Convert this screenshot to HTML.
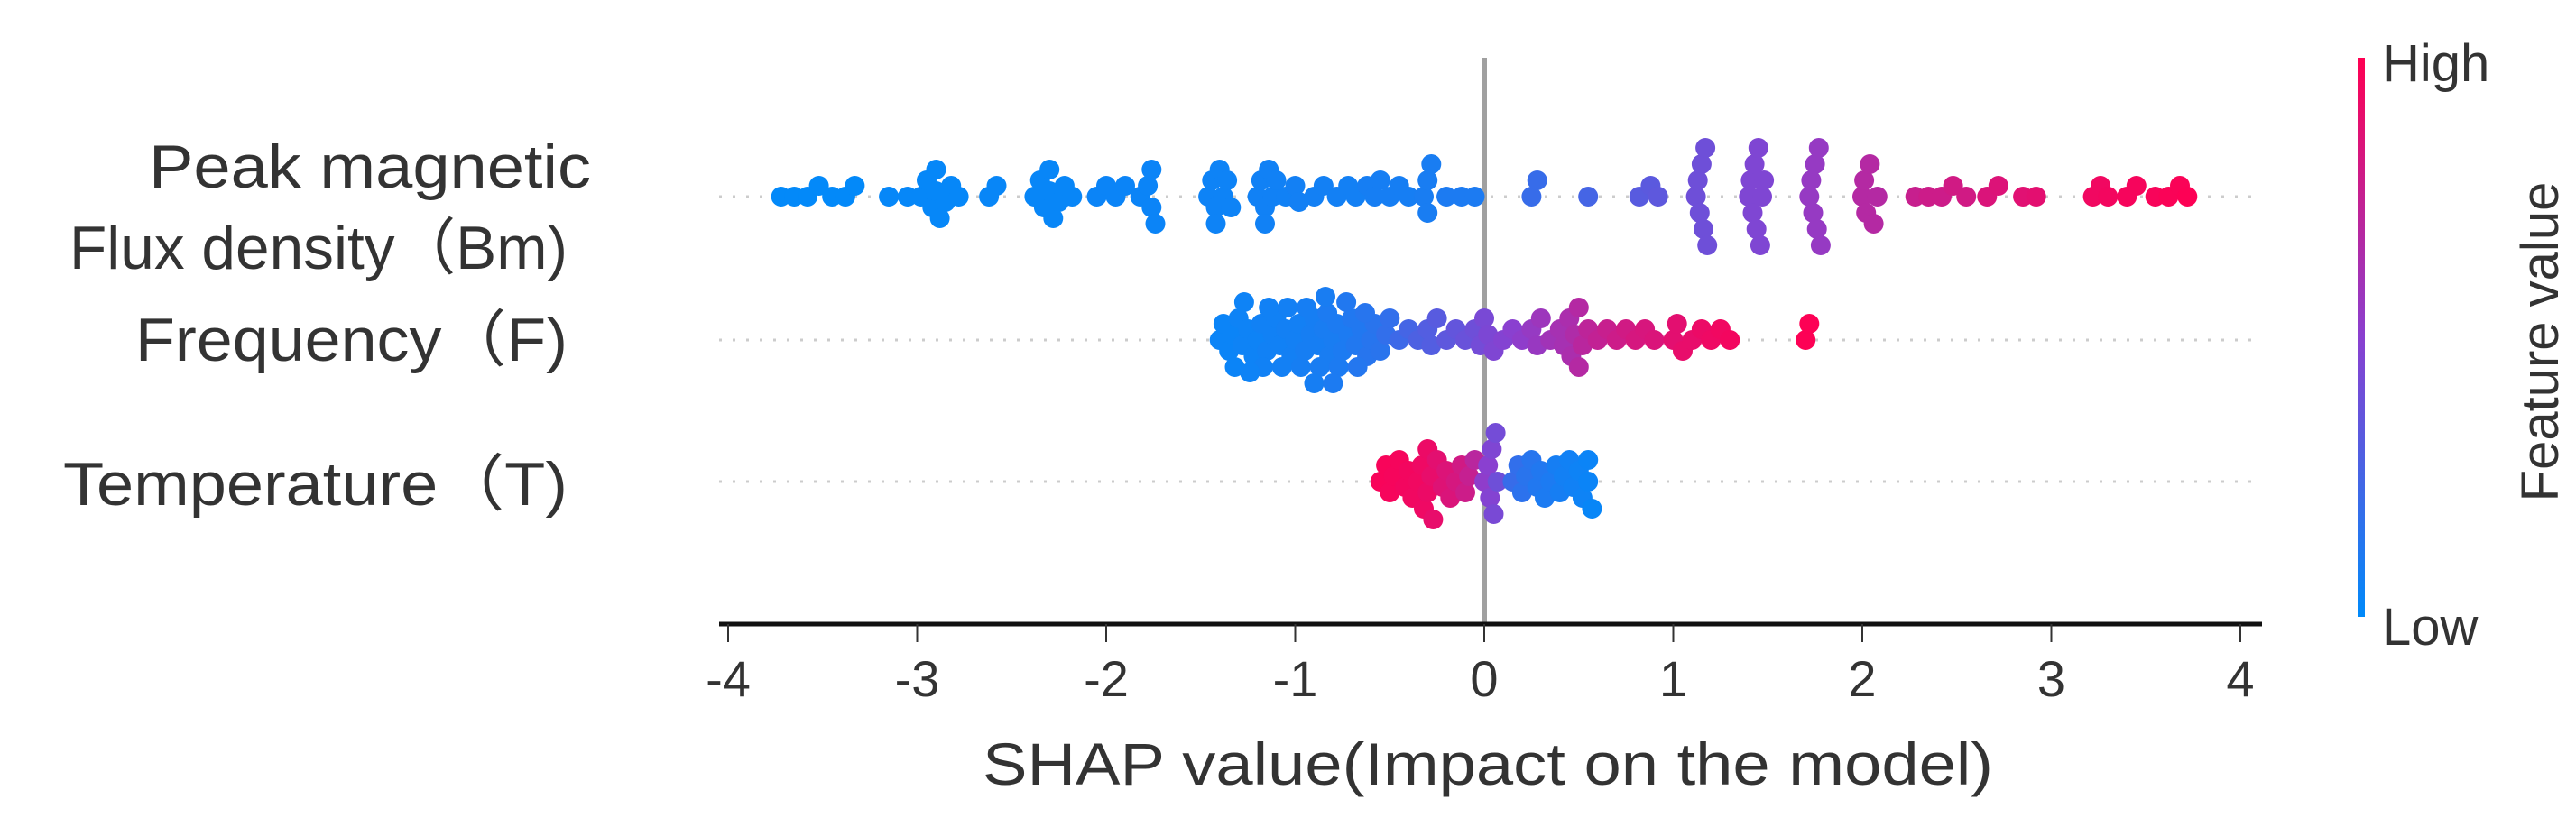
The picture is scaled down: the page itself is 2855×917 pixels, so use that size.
<!DOCTYPE html>
<html><head><meta charset="utf-8"><style>
html,body{margin:0;padding:0;background:#fff;}
svg{display:block;}
text{font-family:"Liberation Sans","Noto Sans CJK SC",sans-serif;fill:#333;}
</style></head><body>
<svg id="chart" width="2855" height="917" viewBox="0 0 2855 917" xmlns="http://www.w3.org/2000/svg">
<defs><linearGradient id="cbar" x1="0" y1="1" x2="0" y2="0">
<stop offset="0" stop-color="#008afa"/><stop offset="0.5" stop-color="#8a40d0"/><stop offset="1" stop-color="#ff0052"/></linearGradient></defs>
<g id="grid"></g>
<line x1="1645" y1="64" x2="1645" y2="692" stroke="#a0a0a0" stroke-width="6"/>
<g id="dots"></g>
<g id="xaxis"></g>
<text x="1089" y="870" font-size="66" textLength="1120" lengthAdjust="spacingAndGlyphs" fill="#222">SHAP value(Impact on the model)</text>
<g font-size="68">
<text x="165" y="208" textLength="490" lengthAdjust="spacingAndGlyphs">Peak magnetic</text>
<text x="77" y="298" textLength="552" lengthAdjust="spacingAndGlyphs">Flux density（Bm)</text>
<text x="150" y="400" textLength="479" lengthAdjust="spacingAndGlyphs">Frequency（F)</text>
<text x="70" y="560" textLength="559" lengthAdjust="spacingAndGlyphs">Temperature（T)</text>
</g>
<rect x="2613" y="64" width="8" height="620" fill="url(#cbar)"/>
<text x="2640" y="90" font-size="58" fill="#222">High</text>
<text x="2640" y="715" font-size="58" fill="#222">Low</text>
<text transform="translate(2835,379) rotate(-90)" font-size="58" text-anchor="middle" fill="#222">Feature value</text>
</svg>
<script>
const features = ["Bm","F","T"];
const tickValues = [-4,-3,-2,-1,0,1,2,3,4];
const tickLabels = ["-4","-3","-2","-1","0","1","2","3","4"];
const bmShap = [-3.72,-3.65,-3.58,-3.52,-3.45,-3.38,-3.33,-3.15,-3.05,-2.98,-2.95,-2.92,-2.9,-2.9,-2.88,-2.85,-2.82,-2.78,-2.62,-2.58,
 -2.38,-2.35,-2.33,-2.3,-2.3,-2.28,-2.25,-2.22,-2.18,-2.05,-2.0,-1.95,-1.9,-1.82,-1.78,-1.76,-1.76,-1.74,
 -1.46,-1.44,-1.42,-1.42,-1.4,-1.38,-1.36,-1.34,-1.2,-1.18,-1.16,-1.16,-1.14,-1.12,-1.1,-1.05,-1.0,-0.98,-0.9,-0.85,-0.78,-0.72,-0.68,-0.62,-0.58,-0.55,-0.5,-0.45,-0.4,-0.32,-0.3,-0.3,-0.28,-0.2,-0.12,-0.05,
 0.25,0.28,0.55,0.82,0.88,0.92,
 1.12,1.13,1.14,1.15,1.16,1.17,1.18,1.4,1.41,1.42,1.43,1.44,1.45,1.46,1.47,1.48,1.72,1.73,1.74,1.75,1.76,1.77,1.78,
 2.0,2.01,2.02,2.04,2.06,2.08,2.28,2.35,2.42,2.48,2.55,2.66,2.72,2.85,2.92,3.22,3.26,3.3,3.4,3.45,3.55,3.62,3.68,3.72];
const bmFeat = [0.01,0.01,0.01,0.01,0.01,0.01,0.01,0.02,0.02,0.02,0.02,0.02,0.02,0.02,0.02,0.02,0.02,0.02,0.03,0.03,
 0.03,0.03,0.03,0.03,0.03,0.03,0.03,0.03,0.03,0.04,0.04,0.04,0.04,0.04,0.04,0.04,0.04,0.04,
 0.05,0.05,0.05,0.05,0.05,0.05,0.05,0.05,0.06,0.06,0.06,0.06,0.06,0.06,0.06,0.06,0.07,0.07,0.07,0.07,0.07,0.07,0.07,0.08,0.08,0.08,0.08,0.08,0.08,0.09,0.09,0.09,0.09,0.1,0.1,0.1,
 0.2,0.2,0.25,0.32,0.33,0.34,
 0.4,0.4,0.4,0.4,0.4,0.4,0.4,0.46,0.46,0.46,0.46,0.46,0.46,0.46,0.46,0.46,0.55,0.55,0.55,0.55,0.55,0.55,0.55,
 0.68,0.68,0.68,0.68,0.68,0.68,0.76,0.78,0.78,0.8,0.8,0.84,0.85,0.87,0.88,0.94,0.94,0.95,0.96,0.96,0.97,0.98,0.98,0.99];
const fShap = [-1.4,-1.38,-1.35,-1.33,-1.3,-1.28,-1.25,-1.22,-1.2,-1.18,-1.15,-1.12,-1.1,-1.08,-1.05,-1.02,-1.0,-0.98,-0.95,-0.92,-0.9,-0.88,-0.85,-0.82,-0.8,-0.78,-0.75,-0.72,-0.7,-0.68,-0.65,-0.62,-0.6,-0.58,-0.55,-0.52,-0.5,
 -1.32,-1.27,-1.17,-1.07,-0.97,-0.87,-0.83,-0.77,-0.73,-0.67,-0.63,-1.24,-1.14,-0.94,-0.84,-1.04,-0.9,-0.8,
 -0.45,-0.4,-0.35,-0.3,-0.28,-0.25,-0.2,-0.15,-0.1,-0.05,-0.02,
 0.0,0.02,0.05,0.1,0.15,0.2,0.25,0.28,0.3,0.35,0.4,0.42,0.45,0.46,0.48,0.5,0.5,0.52,0.55,
 0.6,0.65,0.7,0.75,0.8,0.85,0.9,1.0,1.02,1.05,1.1,1.15,1.2,1.25,1.3,1.7,1.72];
const fFeat = [0.04,0.04,0.04,0.04,0.05,0.05,0.05,0.05,0.05,0.06,0.06,0.06,0.06,0.06,0.07,0.07,0.07,0.07,0.08,0.08,0.08,0.08,0.09,0.09,0.09,0.1,0.1,0.1,0.12,0.12,0.12,0.14,0.14,0.15,0.15,0.18,0.18,
 0.04,0.05,0.06,0.07,0.08,0.09,0.1,0.1,0.12,0.13,0.14,0.05,0.06,0.08,0.09,0.07,0.08,0.1,
 0.22,0.25,0.28,0.3,0.3,0.32,0.34,0.36,0.38,0.4,0.42,
 0.44,0.45,0.46,0.48,0.5,0.52,0.55,0.56,0.58,0.6,0.62,0.62,0.64,0.64,0.66,0.68,0.68,0.7,0.72,
 0.74,0.76,0.78,0.8,0.82,0.83,0.84,0.88,0.88,0.9,0.9,0.92,0.93,0.94,0.95,0.99,0.99];
const tShap = [-0.55,-0.52,-0.5,-0.48,-0.45,-0.42,-0.4,-0.38,-0.35,-0.33,-0.32,-0.3,-0.3,-0.28,-0.27,-0.25,-0.22,-0.2,-0.18,-0.15,-0.12,-0.1,-0.08,-0.05,
 0.0,0.02,0.03,0.04,0.05,0.06,0.07,
 0.15,0.18,0.2,0.22,0.25,0.28,0.3,0.32,0.35,0.38,0.4,0.42,0.45,0.47,0.5,0.52,0.55,0.55,0.57];
const tFeat = [0.97,0.97,0.96,0.96,0.96,0.95,0.95,0.94,0.94,0.93,0.93,0.92,0.92,0.9,0.9,0.88,0.86,0.85,0.84,0.82,0.8,0.78,0.75,0.7,
 0.52,0.5,0.48,0.46,0.44,0.42,0.4,
 0.2,0.18,0.16,0.15,0.14,0.12,0.12,0.1,0.1,0.08,0.08,0.07,0.06,0.06,0.05,0.05,0.04,0.04,0.03];

const NS="http://www.w3.org/2000/svg";
const x0=797,x1=2507;
function xs(v){return 1645+(v)*209.5;}
const rowY=[218,377,534];
function col(t){
  const a=[0,138,250],m=[138,64,208],b=[255,0,82];
  let p,q,u; if(t<0.5){p=a;q=m;u=t/0.5;}else{p=m;q=b;u=(t-0.5)/0.5;}
  return `rgb(${Math.round(p[0]+(q[0]-p[0])*u)},${Math.round(p[1]+(q[1]-p[1])*u)},${Math.round(p[2]+(q[2]-p[2])*u)})`;
}
const grid=document.getElementById('grid');
rowY.forEach((y,i)=>{
  const l=document.createElementNS(NS,'line');
  
  
  l.setAttribute('x1',x0);l.setAttribute('x2',x1);l.setAttribute('y1',y);l.setAttribute('y2',y);
  l.setAttribute('stroke','#ccc');l.setAttribute('stroke-width','3');l.setAttribute('stroke-dasharray','3 12');
  grid.appendChild(l);
});
const dots=document.getElementById('dots');
function swarm(sh,ft,y0,name){
  const placed=[];const d=14,step=6;
  sh.forEach((v,i)=>{
    const x=xs(v);let k=0,dy=0;
    while(true){
      dy=(k%2===0?1:-1)*Math.ceil(k/2)*step;
      if(!placed.some(p=>Math.hypot(p[0]-x,p[1]-dy)<d))break;
      k++;
    }
    placed.push([x,dy]);
    const c=document.createElementNS(NS,'circle');
    
    
    c.setAttribute('cx',x.toFixed(1));c.setAttribute('cy',(y0+dy).toFixed(1));
    c.setAttribute('r','11');c.setAttribute('fill',col(ft[i]));
    dots.appendChild(c);
  });
}
swarm(bmShap,bmFeat,rowY[0],'bm');
swarm(fShap,fFeat,rowY[1],'frequency');
swarm(tShap,tFeat,rowY[2],'temperature');
const ax=document.getElementById('xaxis');
const al=document.createElementNS(NS,'line');


al.setAttribute('x1',x0);al.setAttribute('x2',x1);al.setAttribute('y1',692);al.setAttribute('y2',692);
al.setAttribute('stroke','#111');al.setAttribute('stroke-width','5');
ax.appendChild(al);
tickValues.forEach((v,i)=>{
  const t=document.createElementNS(NS,'line');
  
  
  t.setAttribute('x1',xs(v));t.setAttribute('x2',xs(v));t.setAttribute('y1',692);t.setAttribute('y2',712);
  t.setAttribute('stroke','#333');t.setAttribute('stroke-width','2');
  ax.appendChild(t);
  const tx=document.createElementNS(NS,'text');
  
  
  tx.setAttribute('x',xs(v));tx.setAttribute('y',772);tx.setAttribute('font-size','56');
  tx.setAttribute('text-anchor','middle');tx.setAttribute('fill','#222');
  tx.textContent=tickLabels[i];
  ax.appendChild(tx);
});
</script>
</body></html>
